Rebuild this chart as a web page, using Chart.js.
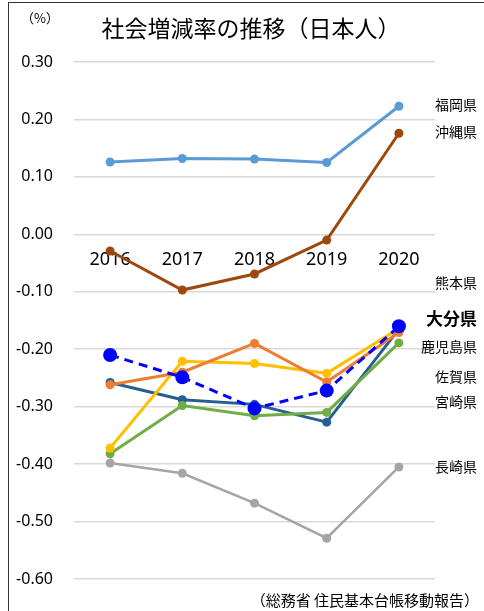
<!DOCTYPE html>
<html>
<head>
<meta charset="utf-8">
<script src="https://cdn.jsdelivr.net/npm/chart.js@4.4.1/dist/chart.umd.min.js"></script>
<style>
html, body { margin: 0; padding: 0; background: #fff; }
#wrap { position: relative; width: 484px; height: 611px; }
#frame { position: absolute; left: 8px; top: 2px; right: 0; bottom: 0; border-left: 1px solid #333; border-top: 1px solid #333; }
</style>
</head>
<body>
<div id="wrap">
  <canvas id="grafico" width="484" height="611"></canvas>
  <div id="frame"></div>
</div>
<script>
// 年（横軸）
const years = ['2016', '2017', '2018', '2019', '2020'];

// 社会増減率（%）
const fukuoka   = [0.126, 0.132, 0.131, 0.125, 0.223];
const saga      = [-0.262, -0.240, -0.190, -0.257, -0.171];
const nagasaki  = [-0.398, -0.416, -0.468, -0.529, -0.405];
const kumamoto  = [-0.372, -0.221, -0.225, -0.242, -0.164];
const oita      = [-0.210, -0.249, -0.303, -0.272, -0.160];
const miyazaki  = [-0.382, -0.298, -0.316, -0.310, -0.189];
const kagoshima = [-0.258, -0.288, -0.296, -0.327, -0.165];
const okinawa   = [-0.029, -0.097, -0.069, -0.010, 0.176];

const yTicks = { min: -0.6, max: 0.3, step: 0.1 };

// 右側のラベル（表示位置は値の単位）
const labelNames = ['福岡県', '沖縄県', '熊本県', '大分県', '鹿児島県', '佐賀県', '宮崎県', '長崎県'];
const labelAt    = [0.225, 0.178, -0.085, -0.146, -0.195, -0.248, -0.291, -0.404];

const JP = "'Noto Sans CJK JP', 'Noto Sans', sans-serif";

function serie(nome, valores, cor, extra) {
    return Object.assign({
        label: nome,
        data: valores,
        borderColor: cor,
        backgroundColor: cor,
        pointBackgroundColor: cor,
        pointBorderWidth: 0,
        pointRadius: 4.5,
        borderWidth: 3,
        tension: 0,
        order: 1
    }, extra || {});
}

const data = {
    labels: years,
    datasets: [
        serie('福岡県', fukuoka, '#5B9BD5'),
        serie('佐賀県', saga, '#ED7D31'),
        serie('長崎県', nagasaki, '#A5A5A5', { borderWidth: 2.5 }),
        serie('熊本県', kumamoto, '#FFC000'),
        serie('大分県', oita, '#0000FF', { borderDash: [9, 6], pointRadius: 7, order: 0 }),
        serie('宮崎県', miyazaki, '#70AD47'),
        serie('鹿児島県', kagoshima, '#255E91'),
        serie('沖縄県', okinawa, '#9E480E')
    ]
};

// タイトル・凡例ラベル・出典を描く
const textos = {
    id: 'textos',
    afterDraw(chart) {
        const c = chart.ctx;
        const y = chart.scales.y;
        c.save();
        c.fillStyle = '#000';
        c.textBaseline = 'middle';

        c.textAlign = 'center';
        c.font = '23px ' + JP;
        c.fillText('社会増減率の推移（日本人）', 251, 28);

        c.font = '13px ' + JP;
        c.fillText('（%）', 40, 18);

        c.textAlign = 'right';
        labelNames.forEach((nome, i) => {
            c.font = nome === '大分県' ? 'bold 17px ' + JP : '14px ' + JP;
            c.fillText(nome, 477, y.getPixelForValue(labelAt[i]));
        });

        c.font = '15px ' + JP;
        c.fillText('（総務省 住民基本台帳移動報告）', 479, 600);
        c.restore();
    }
};

const config = {
    type: 'line',
    data: data,
    options: {
        responsive: false,
        animation: false,
        layout: { padding: { left: 0, top: 62, right: 49, bottom: 32 } },
        plugins: {
            legend: { display: false },
            title: { display: false },
            tooltip: { enabled: false }
        },
        scales: {
            x: {
                position: { y: 0 },
                offset: true,
                grid: { display: false, drawTicks: false },
                border: { display: false },
                ticks: {
                    padding: 15,
                    color: '#000',
                    font: { family: 'Noto Sans', size: 18 }
                }
            },
            y: {
                min: yTicks.min,
                max: yTicks.max,
                afterFit(scale) { scale.width = 74; },
                grid: { color: '#D9D9D9', lineWidth: 1.5, drawTicks: false },
                border: { display: false },
                ticks: {
                    stepSize: yTicks.step,
                    padding: 21,
                    color: '#000',
                    font: { family: 'Noto Sans', size: 16 },
                    callback: v => (Math.abs(v) < 1e-9 ? 0 : v).toFixed(2)
                }
            }
        }
    },
    plugins: [textos]
};

new Chart(document.getElementById('grafico'), config);
</script>
</body>
</html>
